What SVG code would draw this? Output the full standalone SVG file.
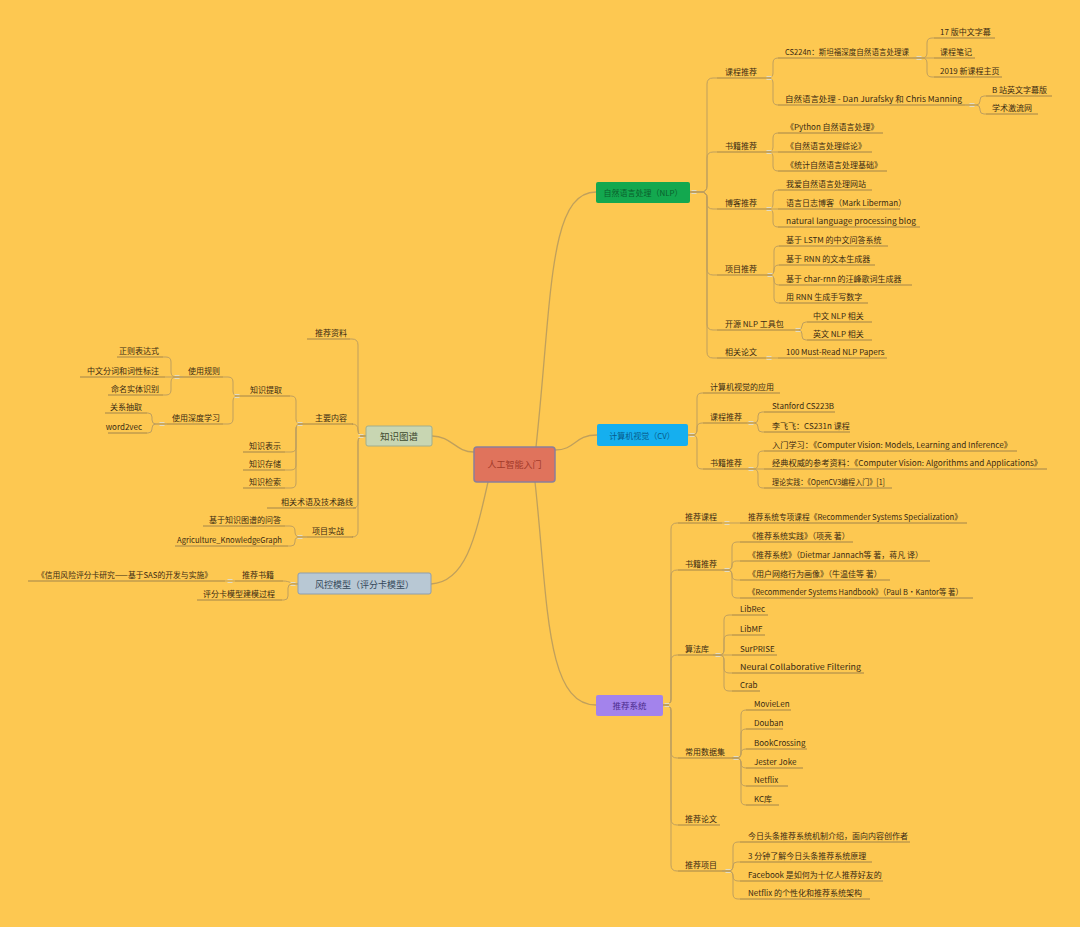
<svg xmlns="http://www.w3.org/2000/svg" width="1080" height="927" viewBox="0 0 1080 927">
<defs>
<style>
.t{font-family:"Noto Sans CJK SC","Liberation Sans",sans-serif;font-size:8px;fill:#3a2a12}
.e{text-anchor:end}
.m{text-anchor:middle}
.u{stroke:#a2844a;stroke-width:1;fill:none}
.c{stroke:#bf9f5e;stroke-width:1;fill:none}
.cm{stroke:#c0a05c;stroke-width:1.3;fill:none}
.mk{stroke:#e2dcc4;stroke-width:1}
</style>
<g id="mk"><path class="mk" d="M-2.5 -1.5H2.5M-2.5 1.5H2.5"/></g>
</defs>
<rect x="0" y="0" width="1080" height="927" fill="#FDC851"/>

<g id="connectors">
<path class="cm" d="M536 447C552 300 548 192 596 192"/>
<path class="cm" d="M555 450C576 450 574 435 597 435"/>
<path class="cm" d="M535 482C548 600 545 705 596 705"/>
<path class="cm" d="M474 452C455 452 452 436 432 436"/>
<path class="cm" d="M488 482C475 540 465 582 431 584"/>
<path class="c" d="M690 192H701Q707 192 707 186V84Q707 78 713 78H717"/>
<path class="c" d="M690 192H701Q707 192 707 186V158Q707 152 713 152H717"/>
<path class="c" d="M690 192H701Q707 192 707 198V203Q707 209 713 209H717"/>
<path class="c" d="M690 192H701Q707 192 707 198V269Q707 275 713 275H717"/>
<path class="c" d="M690 192H701Q707 192 707 198V324Q707 330 713 330H717"/>
<path class="c" d="M690 192H701Q707 192 707 198V352Q707 358 713 358H717"/>
<path class="c" d="M766 78H768Q773 78 773 73V63Q773 58 778 58"/>
<path class="c" d="M766 78H768Q773 78 773 83V100Q773 105 778 105"/>
<path class="c" d="M913 58H922Q927 58 927 53V43Q927 38 932 38H934"/>
<path class="c" d="M913 58H934"/>
<path class="c" d="M913 58H922Q927 58 927 63V72Q927 77 932 77H934"/>
<path class="c" d="M965 105H976Q980 105 980 101V100Q980 96 984 96H986"/>
<path class="c" d="M965 105H976Q980 105 980 109V110Q980 114 984 114H986"/>
<path class="c" d="M766 152H768Q773 152 773 147V138Q773 133 778 133"/>
<path class="c" d="M766 152H778"/>
<path class="c" d="M766 152H768Q773 152 773 157V166Q773 171 778 171"/>
<path class="c" d="M766 209H768Q773 209 773 204V195Q773 190 778 190"/>
<path class="c" d="M766 209H778"/>
<path class="c" d="M766 209H768Q773 209 773 214V222Q773 227 778 227"/>
<path class="c" d="M767 275H769Q774 275 774 270V251Q774 246 779 246"/>
<path class="c" d="M767 275H769Q774 275 774 270Q774 265 779 265"/>
<path class="c" d="M767 275H769Q774 275 774 280Q774 285 779 285"/>
<path class="c" d="M767 275H769Q774 275 774 280V298Q774 303 779 303"/>
<path class="c" d="M795 330H798Q802 330 802 326Q802 322 806 322H807"/>
<path class="c" d="M795 330H798Q802 330 802 334V336Q802 340 806 340H807"/>
<path class="c" d="M766 358H778"/>
<path class="c" d="M688 435H692Q697 435 697 430V398Q697 393 702 393H703"/>
<path class="c" d="M688 435H692Q697 435 697 430V428Q697 423 702 423H703"/>
<path class="c" d="M688 435H692Q697 435 697 440V464Q697 469 702 469H703"/>
<path class="c" d="M747 423H754Q758 423 758 419V416Q758 412 762 412H764"/>
<path class="c" d="M747 423H754Q758 423 758 427V428Q758 432 762 432H764"/>
<path class="c" d="M747 469H753Q758 469 758 464V456Q758 451 763 451H764"/>
<path class="c" d="M747 469H764"/>
<path class="c" d="M747 469H753Q758 469 758 474V483Q758 488 763 488H764"/>
<path class="c" d="M663 705H665Q671 705 671 699V529Q671 523 677 523H678"/>
<path class="c" d="M663 705H665Q671 705 671 699V576Q671 570 677 570H678"/>
<path class="c" d="M663 705H665Q671 705 671 699V661Q671 655 677 655H678"/>
<path class="c" d="M663 705H665Q671 705 671 711V752Q671 758 677 758H678"/>
<path class="c" d="M663 705H665Q671 705 671 711V819Q671 825 677 825H678"/>
<path class="c" d="M663 705H665Q671 705 671 711V865Q671 871 677 871H678"/>
<path class="c" d="M722 523H740"/>
<path class="c" d="M722 570H727Q732 570 732 565V547Q732 542 737 542H740"/>
<path class="c" d="M722 570H727.5Q732 570 732 565.5Q732 561 736.5 561H740"/>
<path class="c" d="M722 570H727.5Q732 570 732 575Q732 580 737 580H740"/>
<path class="c" d="M722 570H727Q732 570 732 575V593Q732 598 737 598H740"/>
<path class="c" d="M713 655H719Q724 655 724 650V620Q724 615 729 615H732"/>
<path class="c" d="M713 655H719Q724 655 724 650V640Q724 635 729 635H732"/>
<path class="c" d="M713 655H732"/>
<path class="c" d="M713 655H719Q724 655 724 660V668Q724 673 729 673H732"/>
<path class="c" d="M713 655H719Q724 655 724 660V686Q724 691 729 691H732"/>
<path class="c" d="M732 758H736Q741 758 741 753V715Q741 710 746 710"/>
<path class="c" d="M732 758H736Q741 758 741 753V734Q741 729 746 729"/>
<path class="c" d="M732 758H736Q741 758 741 753.5Q741 749 746 749"/>
<path class="c" d="M732 758H736Q741 758 741 763Q741 768 746 768"/>
<path class="c" d="M732 758H736Q741 758 741 763V781Q741 786 746 786"/>
<path class="c" d="M732 758H736Q741 758 741 763V800Q741 805 746 805"/>
<path class="c" d="M722 871H728Q733 871 733 866V847Q733 842 738 842H740"/>
<path class="c" d="M722 871H728Q733 871 733 866Q733 862 737 862H740"/>
<path class="c" d="M722 871H728Q733 871 733 876Q733 881 738 881H740"/>
<path class="c" d="M722 871H728Q733 871 733 876V894Q733 899 738 899H740"/>
<path class="c" d="M366 436H364Q358 436 358 430V345Q358 339 352 339H350"/>
<path class="c" d="M366 436H364Q358 436 358 430Q358 424 352 424"/>
<path class="c" d="M366 436H364Q358 436 358 442V503Q358 508 353 508"/>
<path class="c" d="M366 436H364Q358 436 358 442V531Q358 537 352 537"/>
<path class="c" d="M303 424H301Q296 424 296 419V401Q296 396 291 396H290"/>
<path class="c" d="M303 424H301Q296 424 296 429V447Q296 452 291 452H285"/>
<path class="c" d="M303 424H301Q296 424 296 429V465Q296 470 291 470H285"/>
<path class="c" d="M303 424H301Q296 424 296 429V483Q296 488 291 488H285"/>
<path class="c" d="M240 396H238Q233 396 233 391V382Q233 377 228 377H223"/>
<path class="c" d="M240 396H238Q233 396 233 401V419Q233 424 228 424H223"/>
<path class="c" d="M183 377H176Q171 377 171 372V362Q171 357 166 357H163"/>
<path class="c" d="M183 377H165"/>
<path class="c" d="M183 377H176Q171 377 171 382V390Q171 395 166 395H163"/>
<path class="c" d="M167 424H156Q152 424 152 420V417Q152 413 148 413H147"/>
<path class="c" d="M167 424H156Q152 424 152 428V429Q152 433 148 433H147"/>
<path class="c" d="M307 537H300Q295 537 295 532V531Q295 526 290 526H285"/>
<path class="c" d="M307 537H300Q295 537 295 541V542Q295 546 291 546H288"/>
<path class="c" d="M298 584C291 584 290 581 283 581"/>
<path class="c" d="M298 584H292Q288 584 288 588V596Q288 600 284 600H282"/>
<path class="c" d="M235 581H225"/>
</g>

<g id="root"><rect x="474" y="447" width="81" height="35" rx="3" fill="#E0735C" stroke="#8A7F9A" stroke-width="1.5"/><text class="t m" x="514.5" y="468" style="font-size:9px;fill:#A33A2A">人工智能入门</text></g>
<g id="nlp"><rect x="596" y="182" width="94" height="21" rx="2" fill="#13A84F"/><text class="t m" x="643" y="196" style="fill:#0B5E2C">自然语言处理（NLP）</text></g>
<g id="cv"><rect x="597" y="424" width="91" height="22" rx="2" fill="#15AFEF"/><text class="t m" x="642" y="438.5" style="fill:#075B8A">计算机视觉（CV）</text></g>
<g id="rec"><rect x="596" y="695" width="67" height="21" rx="2" fill="#A383EC"/><text class="t m" x="629.5" y="709" style="font-size:8.5px;fill:#4B2C8C">推荐系统</text></g>
<g id="kg"><rect x="366" y="426" width="66" height="20" rx="2" fill="#C8D6B2" stroke="#A0AE8E"/><text class="t m" x="399" y="439.5" style="font-size:9.5px;fill:#3D4A2E">知识图谱</text></g>
<g id="risk"><rect x="298" y="573" width="133" height="21" rx="2" fill="#B8C8D4" stroke="#8E9EAE"/><text class="t m" x="364.5" y="587.5" style="font-size:9px;fill:#34475A">风控模型（评分卡模型）</text></g>

<g id="nlp-course"><path class="u" d="M717 78H766"/><text class="t" x="725" y="75">课程推荐</text></g>
<g id="nlp-cs224n"><path class="u" d="M778 58H913"/><text class="t" x="785" y="55" textLength="124" lengthAdjust="spacingAndGlyphs">CS224n：斯坦福深度自然语言处理课</text></g>
<g id="nlp-cs224n-1"><path class="u" d="M934 38H995"/><text class="t" x="940" y="35">17 版中文字幕</text></g>
<g id="nlp-cs224n-2"><path class="u" d="M934 58H975"/><text class="t" x="940" y="55">课程笔记</text></g>
<g id="nlp-cs224n-3"><path class="u" d="M934 77H1002"/><text class="t" x="940" y="74">2019 新课程主页</text></g>
<g id="nlp-dan"><path class="u" d="M778 105H965"/><text class="t" x="785" y="102" textLength="177" lengthAdjust="spacingAndGlyphs">自然语言处理 - Dan Jurafsky 和 Chris Manning</text></g>
<g id="nlp-dan-1"><path class="u" d="M986 96H1052"/><text class="t" x="992" y="93">B 站英文字幕版</text></g>
<g id="nlp-dan-2"><path class="u" d="M986 114H1038"/><text class="t" x="992" y="111">学术激流网</text></g>
<g id="nlp-books"><path class="u" d="M717 152H766"/><text class="t" x="725" y="149">书籍推荐</text></g>
<g id="nlp-book-1"><path class="u" d="M778 133H883"/><text class="t" x="786" y="130">《Python 自然语言处理》</text></g>
<g id="nlp-book-2"><path class="u" d="M778 152H872"/><text class="t" x="786" y="149">《自然语言处理综论》</text></g>
<g id="nlp-book-3"><path class="u" d="M778 171H887"/><text class="t" x="786" y="168">《统计自然语言处理基础》</text></g>
<g id="nlp-blogs"><path class="u" d="M717 209H766"/><text class="t" x="725" y="206">博客推荐</text></g>
<g id="nlp-blog-1"><path class="u" d="M778 190H872"/><text class="t" x="786" y="187">我爱自然语言处理网站</text></g>
<g id="nlp-blog-2"><path class="u" d="M778 209H900"/><text class="t" x="786" y="206">语言日志博客（Mark Liberman）</text></g>
<g id="nlp-blog-3"><path class="u" d="M778 227H920"/><text class="t" x="786" y="224" textLength="130" lengthAdjust="spacingAndGlyphs">natural language processing blog</text></g>
<g id="nlp-proj"><path class="u" d="M717 275H767"/><text class="t" x="725" y="272">项目推荐</text></g>
<g id="nlp-proj-1"><path class="u" d="M779 246H888"/><text class="t" x="786" y="243">基于 LSTM 的中文问答系统</text></g>
<g id="nlp-proj-2"><path class="u" d="M779 265H875"/><text class="t" x="786" y="262">基于 RNN 的文本生成器</text></g>
<g id="nlp-proj-3"><path class="u" d="M779 285H912"/><text class="t" x="786" y="282">基于 char-rnn 的汪峰歌词生成器</text></g>
<g id="nlp-proj-4"><path class="u" d="M779 303H868"/><text class="t" x="786" y="300">用 RNN 生成手写数字</text></g>
<g id="nlp-tools"><path class="u" d="M717 330H795"/><text class="t" x="725" y="327">开源 NLP 工具包</text></g>
<g id="nlp-tools-1"><path class="u" d="M807 322H872"/><text class="t" x="813" y="319">中文 NLP 相关</text></g>
<g id="nlp-tools-2"><path class="u" d="M807 340H872"/><text class="t" x="813" y="337">英文 NLP 相关</text></g>
<g id="nlp-papers"><path class="u" d="M717 358H766"/><text class="t" x="725" y="355">相关论文</text></g>
<g id="nlp-papers-1"><path class="u" d="M778 358H887"/><text class="t" x="786" y="355">100 Must-Read NLP Papers</text></g>

<g id="cv-app"><path class="u" d="M703 393H780"/><text class="t" x="710" y="390">计算机视觉的应用</text></g>
<g id="cv-course"><path class="u" d="M703 423H747"/><text class="t" x="710" y="420">课程推荐</text></g>
<g id="cv-course-1"><path class="u" d="M764 412H835"/><text class="t" x="772" y="409">Stanford CS223B</text></g>
<g id="cv-course-2"><path class="u" d="M764 432H850"/><text class="t" x="772" y="429">李飞飞：CS231n 课程</text></g>
<g id="cv-books"><path class="u" d="M703 469H747"/><text class="t" x="710" y="466">书籍推荐</text></g>
<g id="cv-book-1"><path class="u" d="M764 451H1017"/><text class="t" x="772" y="448" textLength="240" lengthAdjust="spacingAndGlyphs">入门学习：《Computer Vision: Models, Learning and Inference》</text></g>
<g id="cv-book-2"><path class="u" d="M764 469H1047"/><text class="t" x="772" y="466" textLength="270" lengthAdjust="spacingAndGlyphs">经典权威的参考资料：《Computer Vision: Algorithms and Applications》</text></g>
<g id="cv-book-3"><path class="u" d="M764 488H892"/><text class="t" x="772" y="485" textLength="113" lengthAdjust="spacingAndGlyphs">理论实践：《OpenCV3编程入门》[1]</text></g>

<g id="rec-course"><path class="u" d="M678 523H722"/><text class="t" x="685" y="520">推荐课程</text></g>
<g id="rec-course-1"><path class="u" d="M740 523H967"/><text class="t" x="748" y="520" textLength="214" lengthAdjust="spacingAndGlyphs">推荐系统专项课程《Recommender Systems Specialization》</text></g>
<g id="rec-books"><path class="u" d="M678 570H722"/><text class="t" x="685" y="567">书籍推荐</text></g>
<g id="rec-book-1"><path class="u" d="M740 542H853"/><text class="t" x="748" y="539">《推荐系统实践》（项亮 著）</text></g>
<g id="rec-book-2"><path class="u" d="M740 561H930"/><text class="t" x="748" y="558" textLength="175" lengthAdjust="spacingAndGlyphs">《推荐系统》（Dietmar Jannach等 著，蒋凡 译）</text></g>
<g id="rec-book-3"><path class="u" d="M740 580H890"/><text class="t" x="748" y="577">《用户网络行为画像》（牛温佳等 著）</text></g>
<g id="rec-book-4"><path class="u" d="M740 598H973"/><text class="t" x="748" y="595" textLength="215" lengthAdjust="spacingAndGlyphs">《Recommender Systems Handbook》（Paul B·Kantor等 著）</text></g>
<g id="rec-algo"><path class="u" d="M678 655H713"/><text class="t" x="685" y="652">算法库</text></g>
<g id="rec-algo-1"><path class="u" d="M732 615H768"/><text class="t" x="740" y="612">LibRec</text></g>
<g id="rec-algo-2"><path class="u" d="M732 635H765"/><text class="t" x="740" y="632">LibMF</text></g>
<g id="rec-algo-3"><path class="u" d="M732 655H777"/><text class="t" x="740" y="652">SurPRISE</text></g>
<g id="rec-algo-4"><path class="u" d="M732 673H864"/><text class="t" x="740" y="670" textLength="121" lengthAdjust="spacingAndGlyphs">Neural Collaborative Filtering</text></g>
<g id="rec-algo-5"><path class="u" d="M732 691H760"/><text class="t" x="740" y="688">Crab</text></g>
<g id="rec-data"><path class="u" d="M678 758H732"/><text class="t" x="685" y="755">常用数据集</text></g>
<g id="rec-data-1"><path class="u" d="M746 710H791"/><text class="t" x="754" y="707">MovieLen</text></g>
<g id="rec-data-2"><path class="u" d="M746 729H783"/><text class="t" x="754" y="726">Douban</text></g>
<g id="rec-data-3"><path class="u" d="M746 749H807"/><text class="t" x="754" y="746">BookCrossing</text></g>
<g id="rec-data-4"><path class="u" d="M746 768H803"/><text class="t" x="754" y="765">Jester Joke</text></g>
<g id="rec-data-5"><path class="u" d="M746 786H788"/><text class="t" x="754" y="783">Netflix</text></g>
<g id="rec-data-6"><path class="u" d="M746 805H779"/><text class="t" x="754" y="802">KC库</text></g>
<g id="rec-papers"><path class="u" d="M678 825H720"/><text class="t" x="685" y="822">推荐论文</text></g>
<g id="rec-proj"><path class="u" d="M678 871H722"/><text class="t" x="685" y="868">推荐项目</text></g>
<g id="rec-proj-1"><path class="u" d="M740 842H910"/><text class="t" x="748" y="839" textLength="160" lengthAdjust="spacingAndGlyphs">今日头条推荐系统机制介绍，面向内容创作者</text></g>
<g id="rec-proj-2"><path class="u" d="M740 862H872"/><text class="t" x="748" y="859">3 分钟了解今日头条推荐系统原理</text></g>
<g id="rec-proj-3"><path class="u" d="M740 881H883"/><text class="t" x="748" y="878">Facebook 是如何为十亿人推荐好友的</text></g>
<g id="rec-proj-4"><path class="u" d="M740 899H870"/><text class="t" x="748" y="896">Netflix 的个性化和推荐系统架构</text></g>

<g id="kg-ref"><path class="u" d="M307 339H350"/><text class="t e" x="347" y="336">推荐资料</text></g>
<g id="kg-main"><path class="u" d="M303 424H353"/><text class="t e" x="347" y="421">主要内容</text></g>
<g id="kg-extract"><path class="u" d="M240 396H290"/><text class="t e" x="282" y="393">知识提取</text></g>
<g id="kg-rule"><path class="u" d="M183 377H223"/><text class="t e" x="220" y="374">使用规则</text></g>
<g id="kg-rule-1"><path class="u" d="M117 357H163"/><text class="t e" x="159" y="354">正则表达式</text></g>
<g id="kg-rule-2"><path class="u" d="M80 377H165"/><text class="t e" x="159" y="374">中文分词和词性标注</text></g>
<g id="kg-rule-3"><path class="u" d="M108 395H163"/><text class="t e" x="159" y="392">命名实体识别</text></g>
<g id="kg-dl"><path class="u" d="M167 424H223"/><text class="t e" x="220" y="421">使用深度学习</text></g>
<g id="kg-dl-1"><path class="u" d="M105 413H147"/><text class="t e" x="142" y="410">关系抽取</text></g>
<g id="kg-dl-2"><path class="u" d="M108 433H147"/><text class="t e" x="142" y="430">word2vec</text></g>
<g id="kg-repr"><path class="u" d="M243 452H285"/><text class="t e" x="281" y="449">知识表示</text></g>
<g id="kg-store"><path class="u" d="M243 470H285"/><text class="t e" x="281" y="467">知识存储</text></g>
<g id="kg-search"><path class="u" d="M243 488H285"/><text class="t e" x="281" y="485">知识检索</text></g>
<g id="kg-terms"><path class="u" d="M267 508H356"/><text class="t e" x="353" y="505">相关术语及技术路线</text></g>
<g id="kg-proj"><path class="u" d="M307 537H353"/><text class="t e" x="344" y="534">项目实战</text></g>
<g id="kg-proj-1"><path class="u" d="M203 526H285"/><text class="t e" x="281" y="523">基于知识图谱的问答</text></g>
<g id="kg-proj-2"><path class="u" d="M175 546H288"/><text class="t e" x="282" y="543" textLength="105" lengthAdjust="spacingAndGlyphs">Agriculture_KnowledgeGraph</text></g>

<g id="risk-book"><path class="u" d="M235 581H283"/><text class="t e" x="274" y="578">推荐书籍</text></g>
<g id="risk-book-1"><path class="u" d="M28 581H225"/><text class="t e" x="212" y="578" textLength="175" lengthAdjust="spacingAndGlyphs">《信用风险评分卡研究——基于SAS的开发与实施》</text></g>
<g id="risk-model"><path class="u" d="M197 600H282"/><text class="t e" x="275" y="597">评分卡模型建模过程</text></g>

<g id="markers">
<use href="#mk" x="694" y="192"/><use href="#mk" x="692" y="435"/><use href="#mk" x="667" y="705"/>
<use href="#mk" x="361" y="436"/><use href="#mk" x="293" y="584"/>
<use href="#mk" x="769" y="78"/><use href="#mk" x="919" y="58"/><use href="#mk" x="972" y="105"/>
<use href="#mk" x="769" y="152"/><use href="#mk" x="769" y="209"/><use href="#mk" x="770" y="275"/>
<use href="#mk" x="798" y="330"/><use href="#mk" x="769" y="358"/>
<use href="#mk" x="751" y="423"/><use href="#mk" x="751" y="469"/>
<use href="#mk" x="727" y="523"/><use href="#mk" x="727" y="570"/><use href="#mk" x="718" y="655"/>
<use href="#mk" x="736" y="758"/><use href="#mk" x="728" y="871"/>
<use href="#mk" x="300" y="424"/><use href="#mk" x="237" y="396"/><use href="#mk" x="177" y="377"/>
<use href="#mk" x="162" y="424"/><use href="#mk" x="300" y="537"/><use href="#mk" x="230" y="581"/>
</g>
</svg>
